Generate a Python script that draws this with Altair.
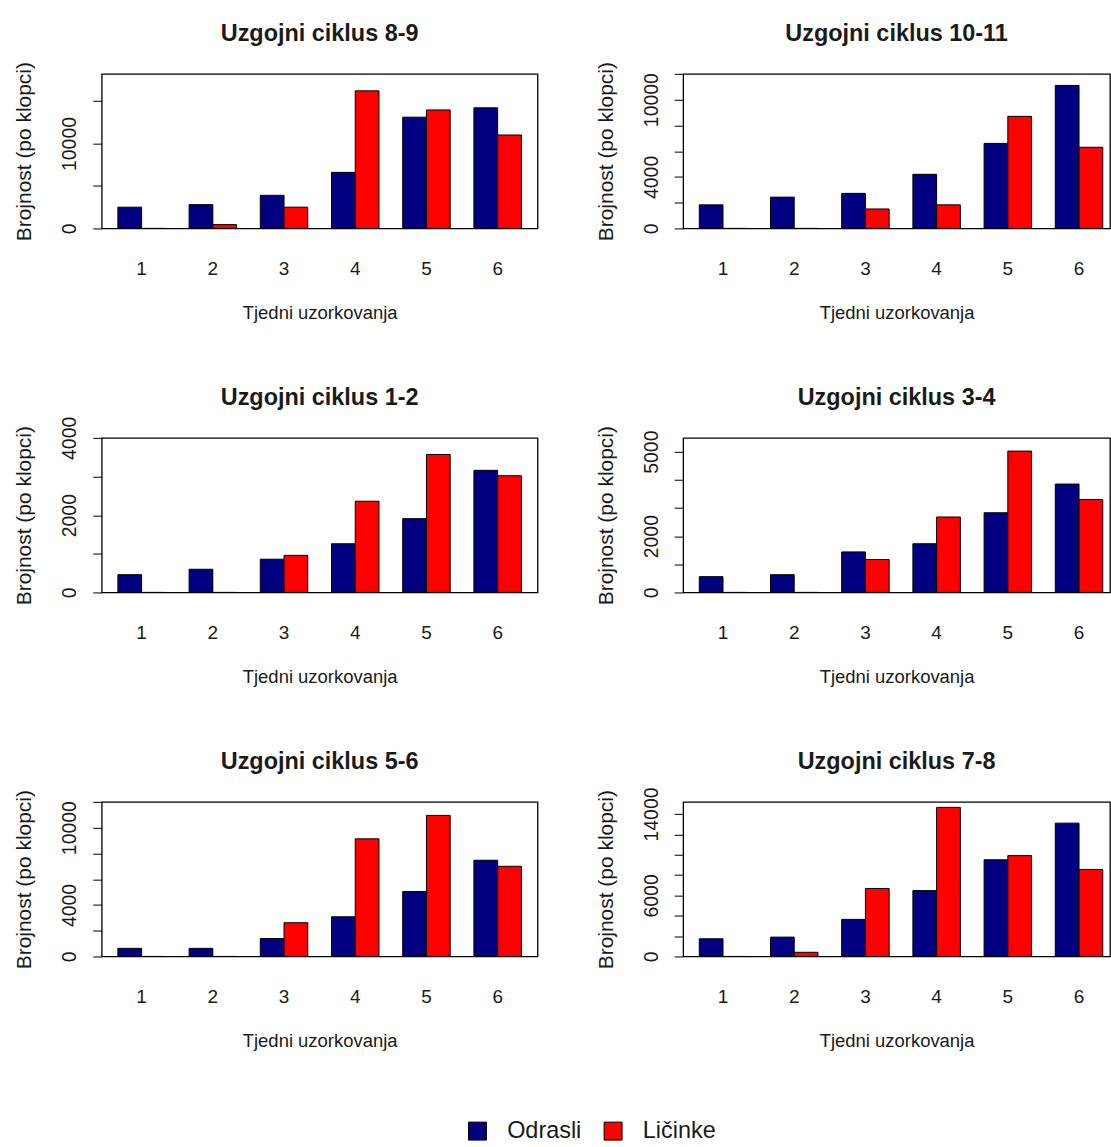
import altair as alt
import pandas as pd

# Sampling weeks and the two life stages counted in each trap
weeks = [1, 2, 3, 4, 5, 6]
stages = ["Odrasli", "Ličinke"]
stage_colors = ["#000080", "#FF0000"]

titles = [
    "Uzgojni ciklus 8-9",
    "Uzgojni ciklus 10-11",
    "Uzgojni ciklus 1-2",
    "Uzgojni ciklus 3-4",
    "Uzgojni ciklus 5-6",
    "Uzgojni ciklus 7-8",
]

# Abundance per trap, one list per breeding cycle (weeks 1-6)
odrasli = [
    [2500, 2800, 3900, 6600, 13100, 14200],
    [1830, 2430, 2720, 4200, 6600, 11100],
    [460, 600, 860, 1260, 1910, 3160],
    [560, 630, 1440, 1730, 2830, 3850],
    [630, 630, 1390, 3080, 5040, 7470],
    [1740, 1900, 3640, 6470, 9500, 13100],
]
licinke = [
    [0, 450, 2500, 16200, 13950, 11000],
    [0, 0, 1510, 1830, 8700, 6300],
    [0, 0, 960, 2360, 3570, 3020],
    [0, 0, 1170, 2680, 5020, 3300],
    [0, 0, 2620, 9130, 10950, 7000],
    [0, 410, 6680, 14650, 9910, 8550],
]

# y axis: upper limit, tick step and which ticks carry a label
y_max = [18200, 12000, 4000, 5490, 12000, 15190]
tick_step = [5000, 2000, 1000, 1000, 2000, 2000]
labelled = [
    [0, 10000],
    [0, 4000, 10000],
    [0, 2000, 4000],
    [0, 2000, 5000],
    [0, 4000, 10000],
    [0, 6000, 14000],
]

FONT = "Liberation Sans"
TEXT = "#1a1a1a"
PANEL_H = 155

legend = alt.Legend(
    title=None,
    orient="none",
    legendX=365,
    legendY=1048,
    direction="horizontal",
    symbolType="square",
    symbolSize=324,
    symbolStrokeColor="black",
    symbolStrokeWidth=1,
    symbolOpacity=1,
    labelFont=FONT,
    labelFontSize=23.5,
    labelColor=TEXT,
    labelOffset=18,
    columnPadding=20,
    padding=0,
)


def panel(i):
    df = pd.DataFrame({
        "Tjedan": weeks * 2,
        "Skupina": [stages[0]] * len(weeks) + [stages[1]] * len(weeks),
        "Brojnost": odrasli[i] + licinke[i],
    })
    right = i % 2 == 1
    if right:
        xscale = alt.Scale(paddingInner=1 / 3, paddingOuter=0.164, align=0.69)
        width = 428
    else:
        xscale = alt.Scale(paddingInner=1 / 3, paddingOuter=0.227)
        width = 437
    ticks = list(range(0, y_max[i] + 1, tick_step[i]))
    expr = f"indexof({labelled[i]}, datum.value) >= 0 ? datum.value : ''"

    bars = alt.Chart(df).mark_bar(stroke="black", strokeWidth=1).encode(
        x=alt.X(
            "Tjedan:O",
            scale=xscale,
            axis=alt.Axis(
                title="Tjedni uzorkovanja",
                labelAngle=0,
                ticks=False,
                tickSize=0,
                domain=False,
                labelPadding=40,
                labelBaseline="middle",
                labelFont=FONT,
                labelFontSize=19,
                labelColor=TEXT,
                titleFont=FONT,
                titleFontSize=18.5,
                titleFontWeight="normal",
                titleColor=TEXT,
                titleY=84,
                titleBaseline="middle",
            ),
        ),
        xOffset=alt.XOffset(
            "Skupina:N",
            sort=stages,
            scale=alt.Scale(domain=stages, paddingInner=0, paddingOuter=0),
        ),
        y=alt.Y(
            "Brojnost:Q",
            scale=alt.Scale(domain=[0, y_max[i]], nice=False, zero=True),
            axis=alt.Axis(
                title="Brojnost (po klopci)",
                values=ticks,
                labelExpr=expr,
                grid=False,
                domain=False,
                ticks=True,
                tickSize=9,
                tickColor="black",
                tickWidth=1,
                labelAngle=270,
                labelAlign="center",
                labelBaseline="middle",
                labelPadding=23,
                labelFont=FONT,
                labelFontSize=19.5,
                labelColor=TEXT,
                labelOverlap=False,
                titleFont=FONT,
                titleFontSize=21,
                titleFontWeight="normal",
                titleColor=TEXT,
                titleAngle=270,
                titleX=-77,
                titleY=PANEL_H / 2,
                titleAlign="center",
                titleBaseline="middle",
            ),
        ),
        color=alt.Color(
            "Skupina:N",
            sort=stages,
            scale=alt.Scale(domain=stages, range=stage_colors),
            legend=legend,
        ),
    )

    # panel heading, centred over the plotting box
    heading = alt.Chart(pd.DataFrame({"naslov": [titles[i]]})).mark_text(
        font=FONT,
        fontSize=23.5,
        fontWeight="bold",
        color=TEXT,
        align="center",
        baseline="alphabetic",
    ).encode(
        text="naslov:N",
        x=alt.value(width / 2),
        y=alt.value(-33),
    )

    return alt.layer(bars, heading).properties(width=width, height=PANEL_H)


chart = (
    alt.concat(*[panel(i) for i in range(6)], columns=2, spacing={"row": 210, "column": 146})
    .properties(
        bounds="flush",
        padding={"left": 13, "top": 19.5, "right": 0, "bottom": 0},
        background="white",
    )
    .configure_view(stroke="black", strokeWidth=1.3)
)

chart.save("out.html", embed_options={"renderer": "svg", "actions": False})
